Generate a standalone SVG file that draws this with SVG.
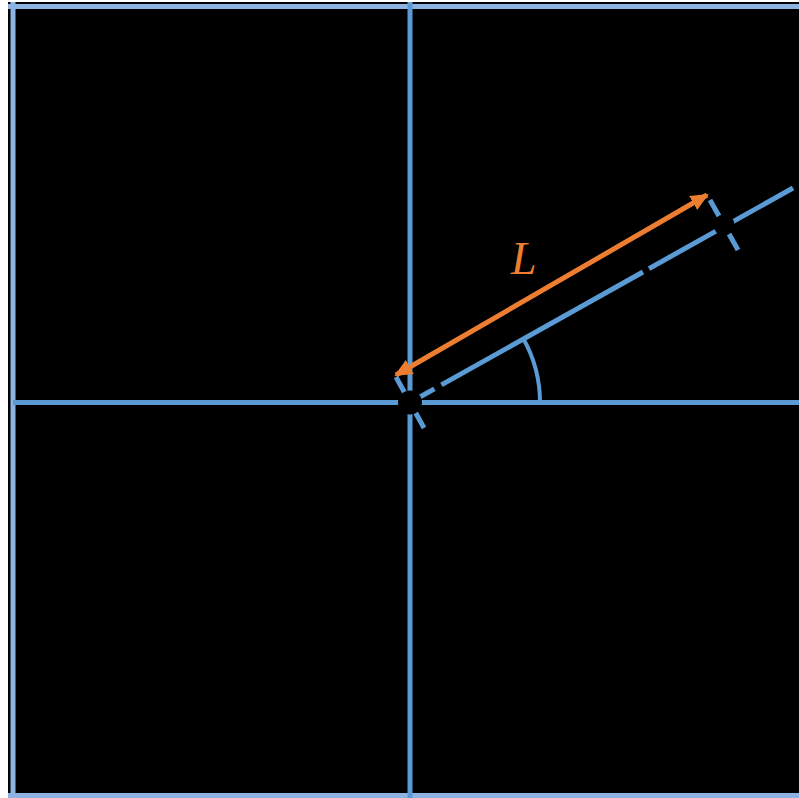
<svg xmlns="http://www.w3.org/2000/svg" width="799" height="798" viewBox="0 0 799 798">
  <defs>
    <style>
      .axis { stroke: #5B9BD5; stroke-width: 5; fill: none; }
      .border { stroke: #8DB3E2; stroke-width: 5; fill: none; }
      .blue { stroke: #5B9BD5; stroke-width: 5; fill: none; stroke-linecap: butt; }
      .arc { stroke: #5B9BD5; stroke-width: 4; fill: none; }
      .orange { stroke: #ED7D31; stroke-width: 5; fill: none; }
      .occluder { fill: #000000; }
      .label { font-family: "Liberation Serif", "Times New Roman", serif; font-style: italic; font-size: 46px; fill: #ED7D31; }
    </style>
    <marker id="arrow" viewBox="0 0 18 16" refX="16" refY="8" markerWidth="18" markerHeight="16" markerUnits="userSpaceOnUse" orient="auto-start-reverse">
      <path d="M0,0 L18,8 L0,16 z" fill="#ED7D31"/>
    </marker>
  </defs>
  <rect x="0" y="0" width="799" height="798" fill="#FFFFFF"/>
  <rect x="8" y="2" width="791" height="796" fill="#000000"/>
  <g id="frame">
    <line class="border" x1="13" y1="2" x2="13" y2="798"/>
    <line class="border" x1="8" y1="6.5" x2="799" y2="6.5"/>
    <line class="border" x1="8" y1="795.5" x2="799" y2="795.5"/>
  </g>
  <g id="axes">
    <line class="axis" x1="410" y1="2" x2="410" y2="798"/>
    <line class="axis" x1="13" y1="402.5" x2="799" y2="402.5"/>
  </g>
  <g id="connectors">
    <path id="angle-arc" class="arc" d="M540,402.5 A130,130 0 0 0 523.5,339"/>
    <line id="ray" class="blue" x1="410" y1="402.5" x2="793" y2="188" stroke-dasharray="28 8 231 7 300"/>
    <line id="tick-origin" class="blue" x1="396" y1="377" x2="424" y2="428"/>
    <line id="tick-end" class="blue" x1="710" y1="200" x2="738" y2="250"/>
    <circle class="occluder" cx="410" cy="402.5" r="12"/>
    <circle class="occluder" cx="724" cy="225" r="10.5"/>
    <line id="length-arrow" class="orange" x1="396" y1="375" x2="707" y2="195" marker-start="url(#arrow)" marker-end="url(#arrow)"/>
  </g>
  <g id="label-L">
    <text class="label" x="511" y="274">L</text>
  </g>
</svg>
